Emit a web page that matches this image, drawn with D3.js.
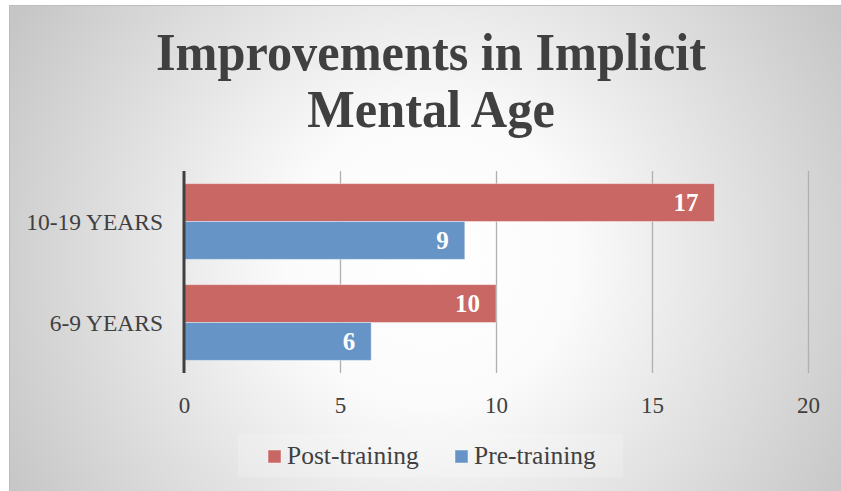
<!DOCTYPE html>
<html>
<head>
<meta charset="utf-8">
<script src="https://cdn.jsdelivr.net/npm/d3@7"></script>
<style>
	body { margin: 0; background: #fff; }
	svg { display: block; }
	text { font-family: "Liberation Serif", "Times New Roman", serif; }
</style>
</head>
<body>
<svg id="chart" width="841" height="491"></svg>
<script>
const categories = ["10-19 YEARS", "6-9 YEARS"];
const seriesNames = ["Post-training", "Pre-training"];
const postTraining = [17, 10];
const preTraining = [9, 6];
const xTicks = [0, 5, 10, 15, 20];
const titleLines = ["Improvements in Implicit", "Mental Age"];

const colors = {"Post-training": "#c96765", "Pre-training": "#6794c6"};
const textColor = "#404040";

const svg = d3.select("#chart");

// background with radial gradient
const grad = svg.append("defs").append("radialGradient")
	.attr("id", "bg")
	.attr("gradientUnits", "userSpaceOnUse")
	.attr("cx", 430).attr("cy", 260).attr("r", 480);
grad.append("stop").attr("offset", 0).attr("stop-color", "#ffffff");
grad.append("stop").attr("offset", 0.3).attr("stop-color", "#fbfbfb");
grad.append("stop").attr("offset", 1).attr("stop-color", "#c6c6c6");

svg.append("rect")
	.attr("x", 9.5).attr("y", 5.5)
	.attr("width", 840).attr("height", 490)
	.attr("fill", "url(#bg)")
	.attr("stroke", "#bdbdbd");

// title, slightly condensed to match the original face
svg.append("g").selectAll("text")
	.data(titleLines)
	.join("text")
	.attr("transform", (d, i) => `translate(431,${70 + i * 57}) scale(0.95,1)`)
	.attr("text-anchor", "middle")
	.attr("font-size", 53)
	.attr("font-weight", "bold")
	.attr("fill", textColor)
	.text(d => d);

const x = d3.scaleLinear().domain([0, 20]).range([184, 808]);
const y = d3.scaleBand().domain(categories).range([171, 373])
	.paddingInner(0.25).paddingOuter(0.125);
const ySub = d3.scaleBand().domain(seriesNames).range([0, y.bandwidth()]);

// gridlines
const grid = svg.append("g")
	.attr("transform", "translate(0,373)")
	.call(d3.axisBottom(x).tickValues(xTicks.slice(1)).tickSize(-202).tickFormat(""));
grid.select(".domain").remove();
grid.selectAll("line").attr("stroke", "#b0b0b0").attr("stroke-width", 1.3);

// tick labels
const xAxis = svg.append("g")
	.attr("transform", "translate(0,397)")
	.call(d3.axisBottom(x).tickValues(xTicks).tickSize(0).tickPadding(0));
xAxis.select(".domain").remove();
xAxis.selectAll("text")
	.attr("dy", "0.7em")
	.attr("font-size", 23)
	.attr("font-family", "Liberation Serif")
	.attr("fill", textColor);

// bars
const rows = categories.map((c, i) => ({
	category: c,
	values: [
		{name: "Post-training", value: postTraining[i]},
		{name: "Pre-training", value: preTraining[i]}
	]
}));

const groups = svg.append("g").selectAll("g")
	.data(rows)
	.join("g")
	.attr("transform", d => `translate(0,${y(d.category)})`);

groups.selectAll("rect")
	.data(d => d.values)
	.join("rect")
	.attr("x", x(0))
	.attr("y", d => ySub(d.name))
	.attr("width", d => x(d.value) - x(0))
	.attr("height", ySub.bandwidth())
	.attr("fill", d => colors[d.name])
	.attr("stroke", "rgba(255,255,255,0.4)")
	.attr("stroke-width", 1);

groups.selectAll("text.value")
	.data(d => d.values)
	.join("text")
	.attr("class", "value")
	.attr("x", d => x(d.value) - 16)
	.attr("y", d => ySub(d.name) + ySub.bandwidth() / 2 + 8.5)
	.attr("text-anchor", "end")
	.attr("font-size", 25)
	.attr("font-weight", "bold")
	.attr("fill", "#ffffff")
	.text(d => d.value);

// category labels
svg.append("g").selectAll("text")
	.data(categories)
	.join("text")
	.attr("x", 163)
	.attr("y", d => y(d) + y.bandwidth() / 2 + 8)
	.attr("text-anchor", "end")
	.attr("font-size", 23.5)
	.attr("fill", textColor)
	.text(d => d);

// zero axis line
svg.append("line")
	.attr("x1", x(0)).attr("x2", x(0))
	.attr("y1", 171).attr("y2", 373)
	.attr("stroke", textColor)
	.attr("stroke-width", 3);

// legend
const legend = svg.append("g");
legend.append("rect")
	.attr("x", 238).attr("y", 434)
	.attr("width", 385).attr("height", 43)
	.attr("fill", "#ffffff").attr("opacity", 0.18);

const legendX = [268, 455];
const items = legend.selectAll("g.item")
	.data(seriesNames)
	.join("g")
	.attr("class", "item")
	.attr("transform", (d, i) => `translate(${legendX[i]},450)`);

items.append("rect")
	.attr("width", 13).attr("height", 13)
	.attr("fill", d => colors[d])
	.attr("stroke", "rgba(255,255,255,0.45)");

items.append("text")
	.attr("x", 19)
	.attr("y", 14)
	.attr("font-size", 25.5)
	.attr("fill", textColor)
	.text(d => d);
</script>
</body>
</html>
